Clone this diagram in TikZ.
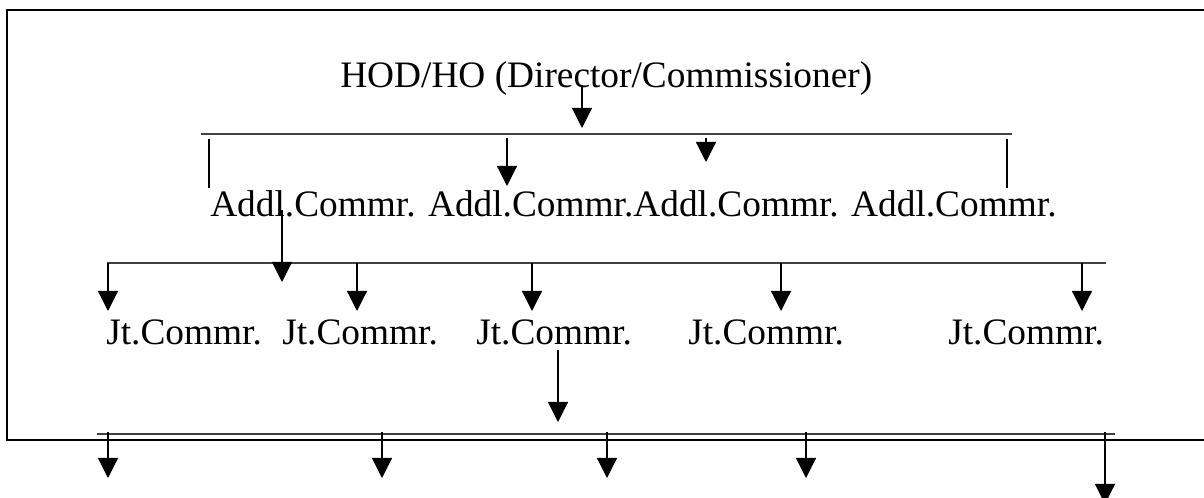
\documentclass[tikz,border=0pt]{standalone}
\usepackage{fontspec}
\setmainfont{Liberation Serif}
\usetikzlibrary{arrows.meta}
\tikzset{
  lbl/.style={anchor=base west, inner sep=0pt, font=\fontsize{28}{34}\selectfont},
  frameline/.style={line width=1.6pt},
  bar/.style={line width=1pt, draw=black!75},
  tick/.style={line width=0.9pt},
  arr/.style={line width=0.9pt, -{Triangle[width=15pt,length=15pt]}}
}
\begin{document}
\begin{tikzpicture}[x=0.75pt,y=-0.75pt]
\useasboundingbox (0,0) rectangle (1204,498);
% frame (open to the right, beyond the page)
\draw[frameline] (1230,10) -- (7,10) -- (7,440) -- (1230,440);

% texts
\node[lbl] (hod) at (340,88) {HOD/HO (Director/Commissioner)};
\node[lbl] (addl) at (210,217) {Addl.Commr. Addl.Commr.Addl.Commr. Addl.Commr.};
\node[lbl] (jt1) at (106,345) {Jt.Commr.};
\node[lbl] (jt2) at (282,345) {Jt.Commr.};
\node[lbl] (jt3) at (476,345) {Jt.Commr.};
\node[lbl] (jt4) at (688,345) {Jt.Commr.};
\node[lbl] (jt5) at (948,345) {Jt.Commr.};

% bars
\coordinate (b1l) at (201,134); \coordinate (b1r) at (1012,134);
\coordinate (b2l) at (107,263); \coordinate (b2r) at (1106,263);
\coordinate (b3l) at (97,434);  \coordinate (b3r) at (1115,434);
\draw[bar] (b1l) -- (b1r);
\draw[bar] (b2l) -- (b2r);
\draw[bar] (b3l) -- (b3r);

% level 1
\draw[arr] (582,85) -- (582,128);
\draw[tick] (209,139) -- (209,188);
\draw[arr] (507,138) -- (507,186);
\draw[arr] (706,138) -- (706,162);
\draw[tick] (1007,139) -- (1007,188);

% level 2
\draw[arr] (282,210) -- (282,282);
\foreach \x in {108,357,532,781,1082}
  \draw[arr] (\x,263) -- (\x,311);

% level 3
\draw[arr] (558,350) -- (558,422);
\foreach \x in {108,382,607,806}
  \draw[arr] (\x,432) -- (\x,478);
\draw[arr] (1105,432) -- (1105,504);
\end{tikzpicture}
\end{document}
